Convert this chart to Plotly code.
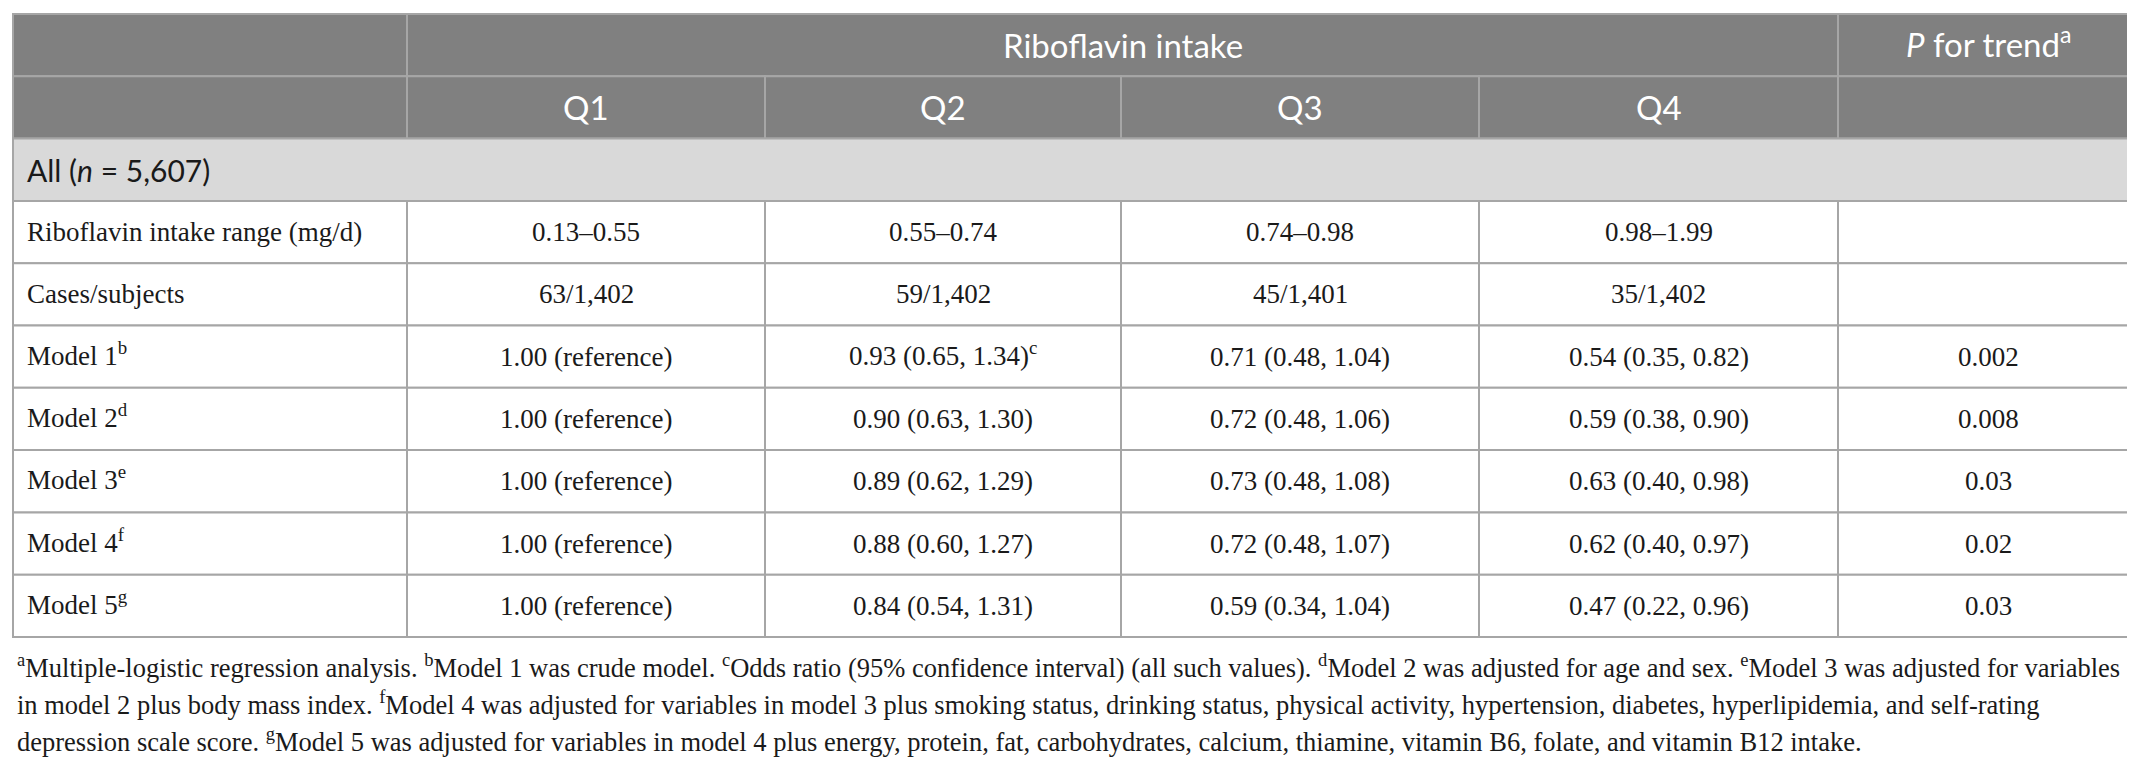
import plotly.graph_objects as go

quartiles = ["Q1", "Q2", "Q3", "Q4"]
intake_range = ["0.13–0.55", "0.55–0.74", "0.74–0.98", "0.98–1.99"]
cases = ["63/1,402", "59/1,402", "45/1,401", "35/1,402"]

models = ["Model 1", "Model 2", "Model 3", "Model 4", "Model 5"]
model_marks = ["b", "d", "e", "f", "g"]
# odds ratios with lower / upper 95% CI for Q2..Q4 (Q1 is reference)
or_q2 = [0.93, 0.90, 0.89, 0.88, 0.84]
lo_q2 = [0.65, 0.63, 0.62, 0.60, 0.54]
hi_q2 = [1.34, 1.30, 1.29, 1.27, 1.31]
or_q3 = [0.71, 0.72, 0.73, 0.72, 0.59]
lo_q3 = [0.48, 0.48, 0.48, 0.48, 0.34]
hi_q3 = [1.04, 1.06, 1.08, 1.07, 1.04]
or_q4 = [0.54, 0.59, 0.63, 0.62, 0.47]
lo_q4 = [0.35, 0.38, 0.40, 0.40, 0.22]
hi_q4 = [0.82, 0.90, 0.98, 0.97, 0.96]
p_trend = ["0.002", "0.008", "0.03", "0.02", "0.03"]

footnotes = [
    "<sup>a</sup>Multiple-logistic regression analysis. <sup>b</sup>Model 1 was crude model. "
    "<sup>c</sup>Odds ratio (95% confidence interval) (all such values). <sup>d</sup>Model 2 was "
    "adjusted for age and sex. <sup>e</sup>Model 3 was adjusted for variables",
    "in model 2 plus body mass index. <sup>f</sup>Model 4 was adjusted for variables in model 3 plus "
    "smoking status, drinking status, physical activity, hypertension, diabetes, hyperlipidemia, and self-rating",
    "depression scale score. <sup>g</sup>Model 5 was adjusted for variables in model 4 plus energy, "
    "protein, fat, carbohydrates, calcium, thiamine, vitamin B6, folate, and vitamin B12 intake.",
]

# ---- layout geometry (pixels) ----
W, H = 2135, 762
col_x = [5, 399, 757, 1113, 1471, 1830, 2130]
top, row_h, n_rows = 6, 62.3, 10
row_y = [top + i * row_h for i in range(n_rows + 1)]
foot_y = [658, 695, 732]

HEAD_BG = "#808080"
SUB_BG = "#d9d9d9"
LINE = "#a6a6a6"
SANS = "Lato, Open Sans, sans-serif"
SERIF = "Liberation Serif, Times New Roman, serif"
TXT = "#1a1a1a"
HEAD_SIZE = 33
GROUP_SIZE = 30
BODY_SIZE = 27
FOOT_SIZE = 26.5

fig = go.Figure()
fig.add_trace(go.Scatter(x=[0, W], y=[0, H], mode="markers",
                         marker=dict(opacity=0), hoverinfo="skip", showlegend=False))

shapes = []
annotations = []


def cell(x0, x1, r, bg="white", line=LINE):
    shapes.append(dict(type="rect", xref="x", yref="y", x0=x0, x1=x1,
                       y0=row_y[r], y1=row_y[r + 1], fillcolor=bg,
                       line=dict(color=line, width=2), layer="below"))


def text(s, x, r, anchor="center", font=SERIF, size=BODY_SIZE, color=TXT, dy=0):
    annotations.append(dict(text=s, x=x, y=(row_y[r] + row_y[r + 1]) / 2 + dy,
                            xref="x", yref="y", xanchor=anchor, yanchor="middle",
                            showarrow=False, font=dict(family=font, size=size, color=color)))


def mid(c):
    return (col_x[c] + col_x[c + 1]) / 2


# header row 1
cell(col_x[0], col_x[1], 0, HEAD_BG)
cell(col_x[1], col_x[5], 0, HEAD_BG)
cell(col_x[5], col_x[6], 0, HEAD_BG)
text("Riboflavin intake", (col_x[1] + col_x[5]) / 2, 0, font=SANS, size=HEAD_SIZE, color="white")
text("<i>P</i> for trend<sup>a</sup>", mid(5), 0, font=SANS, size=HEAD_SIZE, color="white", dy=-3)

# header row 2
for c in range(6):
    cell(col_x[c], col_x[c + 1], 1, HEAD_BG)
for i, q in enumerate(quartiles):
    text(q, mid(i + 1), 1, font=SANS, size=HEAD_SIZE, color="white")

# group row
cell(col_x[0], col_x[6], 2, SUB_BG)
text("All (<i>n</i> = 5,607)", col_x[0] + 12, 2, anchor="left", font=SANS, size=GROUP_SIZE)

# body rows
body = [("Riboflavin intake range (mg/d)", intake_range, ""),
        ("Cases/subjects", cases, "")]
for m in range(len(models)):
    q2 = f"{or_q2[m]:.2f} ({lo_q2[m]:.2f}, {hi_q2[m]:.2f})" + ("<sup>c</sup>" if m == 0 else "")
    q3 = f"{or_q3[m]:.2f} ({lo_q3[m]:.2f}, {hi_q3[m]:.2f})"
    q4 = f"{or_q4[m]:.2f} ({lo_q4[m]:.2f}, {hi_q4[m]:.2f})"
    body.append((f"{models[m]}<sup>{model_marks[m]}</sup>",
                 ["1.00 (reference)", q2, q3, q4], p_trend[m]))

for k, (label, vals, p) in enumerate(body):
    r = 3 + k
    for c in range(6):
        cell(col_x[c], col_x[c + 1], r)
    text(label, col_x[0] + 12, r, anchor="left", dy=-3 if "<sup>" in label else 0)
    for i, v in enumerate(vals):
        text(v, mid(i + 1), r, dy=-3 if "<sup>" in v else 0)
    if p:
        text(p, mid(5), r)

# footnotes
for line, y in zip(footnotes, foot_y):
    annotations.append(dict(text=line, x=col_x[0] + 2, y=y, xref="x", yref="y",
                            xanchor="left", yanchor="middle", showarrow=False,
                            font=dict(family=SERIF, size=FOOT_SIZE, color=TXT)))

fig.update_layout(
    width=W, height=H,
    margin=dict(l=0, r=0, t=0, b=0),
    paper_bgcolor="white", plot_bgcolor="white",
    xaxis=dict(range=[0, W], visible=False, fixedrange=True),
    yaxis=dict(range=[H, 0], visible=False, fixedrange=True),
    shapes=shapes, annotations=annotations,
)

fig.write_html("out.html")
